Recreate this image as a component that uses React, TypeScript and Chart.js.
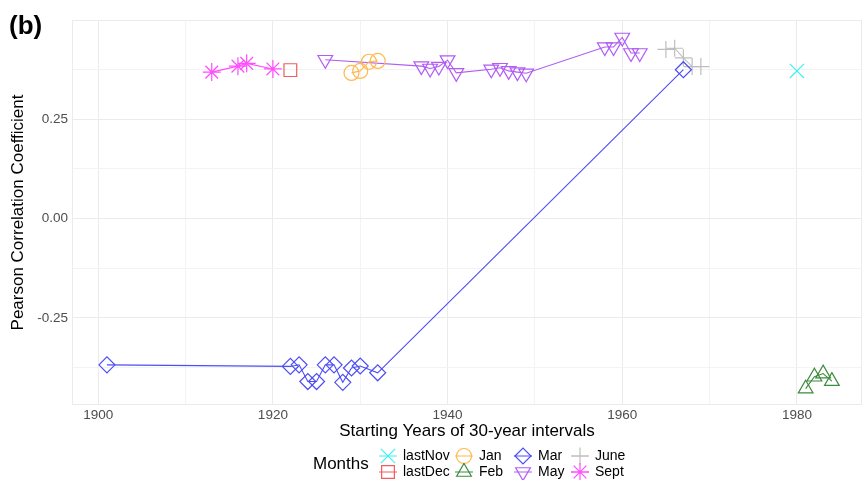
import React, { useEffect, useRef } from 'react';
import { Chart, registerables } from 'chart.js';
import { drawPoint } from 'chart.js/helpers';

Chart.register(...registerables);

const FONT = "'Liberation Sans', Arial, sans-serif";

// ---- data (starting year, Pearson r) ----
const lastNovYears = [1980];
const lastNovValues = [0.371];
const lastDecYears = [1922];
const lastDecValues = [0.373];
const janYears = [1929, 1930, 1931, 1932];
const janValues = [0.366, 0.371, 0.394, 0.396];
const febYears = [1981, 1982, 1983, 1984];
const febValues = [-0.428, -0.398, -0.39, -0.409];
const marYears = [1901, 1922, 1923, 1924, 1925, 1926, 1927, 1928, 1929, 1930, 1932, 1967];
const marValues = [-0.368, -0.372, -0.368, -0.41, -0.41, -0.368, -0.368, -0.412, -0.376, -0.371, -0.388, 0.374];
const mayYears = [1926, 1937, 1938, 1939, 1940, 1941, 1945, 1946, 1947, 1948, 1949, 1958, 1959, 1960, 1961, 1962];
const mayValues = [0.399, 0.383, 0.377, 0.382, 0.398, 0.366, 0.375, 0.379, 0.371, 0.368, 0.365, 0.431, 0.431, 0.455, 0.416, 0.416];
const juneYears = [1965, 1966, 1967, 1968, 1969];
const juneValues = [0.425, 0.428, 0.404, 0.382, 0.382];
const septYears = [1913, 1916, 1917, 1920];
const septValues = [0.368, 0.383, 0.39, 0.376];

const xTickLabels = ['1900', '1920', '1940', '1960', '1980'];
const yTickLabels = ['-0.25', '0.00', '0.25'];

type Series = {
  label: string;
  years: number[];
  values: number[];
  color: string;
  style: string;
  radius: number;
  rotation?: number;
};

const series: Series[] = [
  { label: 'lastNov', years: lastNovYears, values: lastNovValues, color: '#3FF0F0', style: 'crossRot', radius: 10 },
  { label: 'lastDec', years: lastDecYears, values: lastDecValues, color: '#F25C5C', style: 'rect', radius: 9 },
  { label: 'Jan', years: janYears, values: janValues, color: '#FFB84D', style: 'circle', radius: 7.5 },
  { label: 'Feb', years: febYears, values: febValues, color: '#3D8B3D', style: 'triangle', radius: 8.5 },
  { label: 'Mar', years: marYears, values: marValues, color: '#4D4DF5', style: 'rectRot', radius: 8 },
  { label: 'May', years: mayYears, values: mayValues, color: '#B05CF5', style: 'triangle', radius: 8.5, rotation: 180 },
  { label: 'June', years: juneYears, values: juneValues, color: '#BEBEBE', style: 'cross', radius: 8.5 },
  { label: 'Sept', years: septYears, values: septValues, color: '#FF4DFF', style: 'star', radius: 9 },
];

// legend layout: columns of two rows
const legendColumns = [
  ['lastNov', 'lastDec'],
  ['Jan', 'Feb'],
  ['Mar', 'May'],
  ['June', 'Sept'],
];

const decorPlugin = {
  id: 'decor',
  beforeDatasetsDraw(chart: any) {
    const { ctx, chartArea } = chart;
    ctx.save();
    ctx.strokeStyle = '#EBEBEB';
    ctx.lineWidth = 1;
    ctx.strokeRect(chartArea.left + 0.5, chartArea.top + 0.5, chartArea.right - chartArea.left - 1, chartArea.bottom - chartArea.top - 1);
    ctx.restore();
  },
  afterDraw(chart: any) {
    const ctx = chart.ctx as CanvasRenderingContext2D;
    ctx.save();
    // panel tag
    ctx.fillStyle = '#000';
    ctx.font = `bold 26px ${FONT}`;
    ctx.textAlign = 'left';
    ctx.textBaseline = 'middle';
    ctx.fillText('(b)', 9, 27);

    // legend
    ctx.font = `17px ${FONT}`;
    ctx.fillText('Months', 313, 464);
    const colSymX = [388, 464, 523, 580];
    const rowY = [456, 472];
    ctx.font = `14px ${FONT}`;
    legendColumns.forEach((col, ci) => {
      col.forEach((name, ri) => {
        const s = series.find((q) => q.label === name)!;
        const x = colSymX[ci];
        const y = rowY[ri];
        ctx.strokeStyle = s.color;
        ctx.fillStyle = 'rgba(0,0,0,0)';
        ctx.lineWidth = 1;
        ctx.beginPath();
        ctx.moveTo(x - 9, y);
        ctx.lineTo(x + 9, y);
        ctx.stroke();
        ctx.lineWidth = 1.2;
        drawPoint(ctx, { pointStyle: s.style as any, rotation: s.rotation || 0, radius: s.radius, borderWidth: 1.2 }, x, y);
        ctx.fillStyle = '#000';
        ctx.textBaseline = 'middle';
        ctx.fillText(name, x + 15, y + 0.5);
      });
    });
    ctx.restore();
  },
};

export default function App() {
  const ref = useRef<HTMLCanvasElement>(null);
  useEffect(() => {
    document.body.style.margin = '0';
    Chart.defaults.font.family = FONT;
    const datasets = series.map((s) => ({
      label: s.label,
      data: s.years.map((yr, i) => ({ x: yr, y: s.values[i] })),
      borderColor: s.color,
      backgroundColor: 'rgba(0,0,0,0)',
      borderWidth: 1.1,
      pointStyle: s.style,
      pointRadius: s.radius,
      pointRotation: s.rotation || 0,
      pointBorderWidth: 1.2,
      pointBorderColor: s.color,
      pointBackgroundColor: 'rgba(0,0,0,0)',
      pointHoverRadius: s.radius,
      showLine: true,
      tension: 0,
      clip: false,
    }));
    const isMajor = (v: number, step: number) => Math.abs(v / step - Math.round(v / step)) < 1e-6;
    const chart = new Chart(ref.current!, {
      type: 'line',
      data: { datasets: datasets as any },
      options: {
        animation: false,
        responsive: false,
        layout: { autoPadding: false, padding: { top: 20, right: 2, left: 0, bottom: 0 } },
        plugins: { legend: { display: false }, tooltip: { enabled: false } },
        scales: {
          x: {
            type: 'linear',
            min: 1897.0,
            max: 1987.45,
            afterFit: (s: any) => { s.height = 75; },
            border: { display: false },
            grid: {
              drawTicks: false,
              color: (c: any) => (c.tick && isMajor(c.tick.value, 20) ? '#EBEBEB' : '#F3F3F3'),
              lineWidth: 1,
            },
            ticks: {
              stepSize: 10,
              autoSkip: false,
              maxRotation: 0,
              includeBounds: false,
              padding: 2,
              color: '#4D4D4D',
              font: { family: FONT, size: 13.5 },
              callback: (v: any) => {
                const s = String(v);
                return xTickLabels.includes(s) ? s : '';
              },
            },
            title: {
              display: true,
              text: 'Starting Years of 30-year intervals',
              color: '#000',
              font: { family: FONT, size: 17 },
              padding: { top: 0, bottom: 38 },
            },
          },
          y: {
            type: 'linear',
            min: -0.469,
            max: 0.499,
            afterFit: (s: any) => { s.width = 72; },
            border: { display: false },
            grid: {
              drawTicks: false,
              color: (c: any) => (c.tick && isMajor(c.tick.value, 0.25) ? '#EBEBEB' : '#F3F3F3'),
              lineWidth: 1,
            },
            ticks: {
              stepSize: 0.125,
              autoSkip: false,
              includeBounds: false,
              padding: 4,
              color: '#4D4D4D',
              font: { family: FONT, size: 13.5 },
              callback: (v: any) => {
                const s = (Math.abs(v) < 1e-9 ? 0 : Number(v)).toFixed(2);
                return yTickLabels.includes(s) ? s : '';
              },
            },
            title: {
              display: true,
              text: 'Pearson Correlation Coefficient',
              color: '#000',
              font: { family: FONT, size: 17 },
              padding: { top: 8, bottom: 0 },
            },
          },
        },
      },
      plugins: [decorPlugin],
    });
    return () => chart.destroy();
  }, []);
  return (
    <div style={{ width: 864, height: 480 }}>
      <canvas ref={ref} width={864} height={480} />
    </div>
  );
}
